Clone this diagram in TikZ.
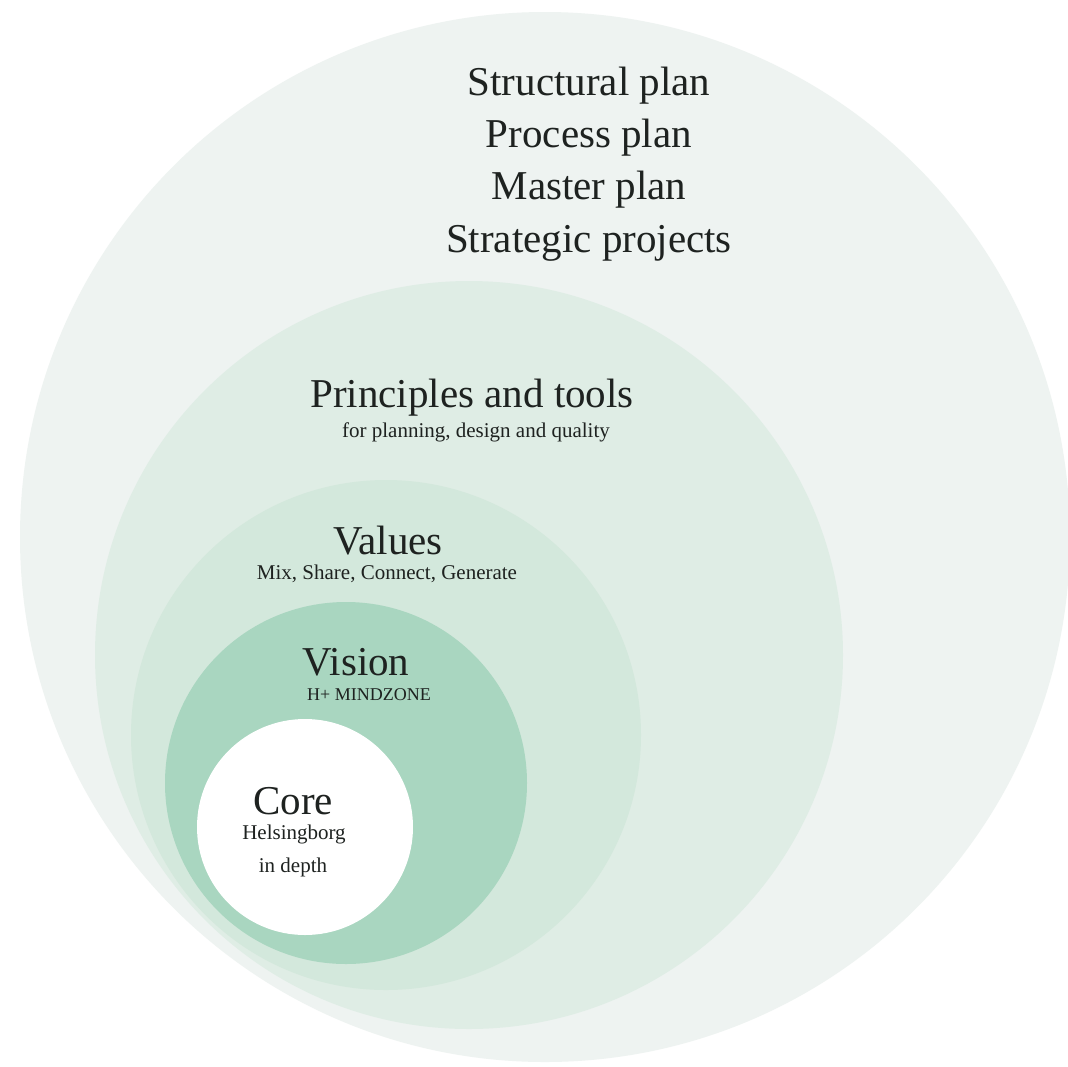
\documentclass[tikz,border=0pt]{standalone}
\usepackage{fontspec}
\setmainfont{Liberation Serif}
\definecolor{ringA}{RGB}{238,243,241}
\definecolor{ringB}{RGB}{223,237,229}
\definecolor{ringC}{RGB}{211,232,220}
\definecolor{ringD}{RGB}{169,214,192}
\definecolor{inkc}{RGB}{30,34,32}
\begin{document}
\begin{tikzpicture}[x=1pt,y=-1pt,
  ring/.style={draw=none},
  bigtext/.style={text=inkc,inner sep=0pt,font=\fontsize{41}{52.3}\selectfont,align=center},
  smalltext/.style={text=inkc,inner sep=0pt,font=\fontsize{21}{26}\selectfont,align=center}]
\useasboundingbox[fill=white] (0,0) rectangle (1068,1066);
\fill[ringA] (545,537) circle (525);
\fill[ringB] (469,655) circle (374);
\fill[ringC] (386,735) circle (255);
\fill[ringD] (346,783) circle (181);
\fill[white] (305,827) circle (108);
\node[bigtext] (plans) at (589,164) {Structural plan\\Process plan\\Master plan\\Strategic projects};
\node[bigtext] (principles) at (472,398) {Principles and tools};
\node[smalltext] (principlesub) at (476,432) {for planning, design and quality};
\node[bigtext] (values) at (388,541) {Values};
\node[smalltext] (valuesub) at (387,574) {Mix, Share, Connect, Generate};
\node[bigtext] (vision) at (356,662) {Vision};
\node[smalltext,font=\fontsize{18}{22}\selectfont] (visionsub) at (369,695) {H+ MINDZONE};
\node[bigtext] (core) at (293,801) {Core};
\node[smalltext] (coresub1) at (294,834) {Helsingborg};
\node[smalltext] (coresub2) at (293,867) {in depth};
\end{tikzpicture}
\end{document}
